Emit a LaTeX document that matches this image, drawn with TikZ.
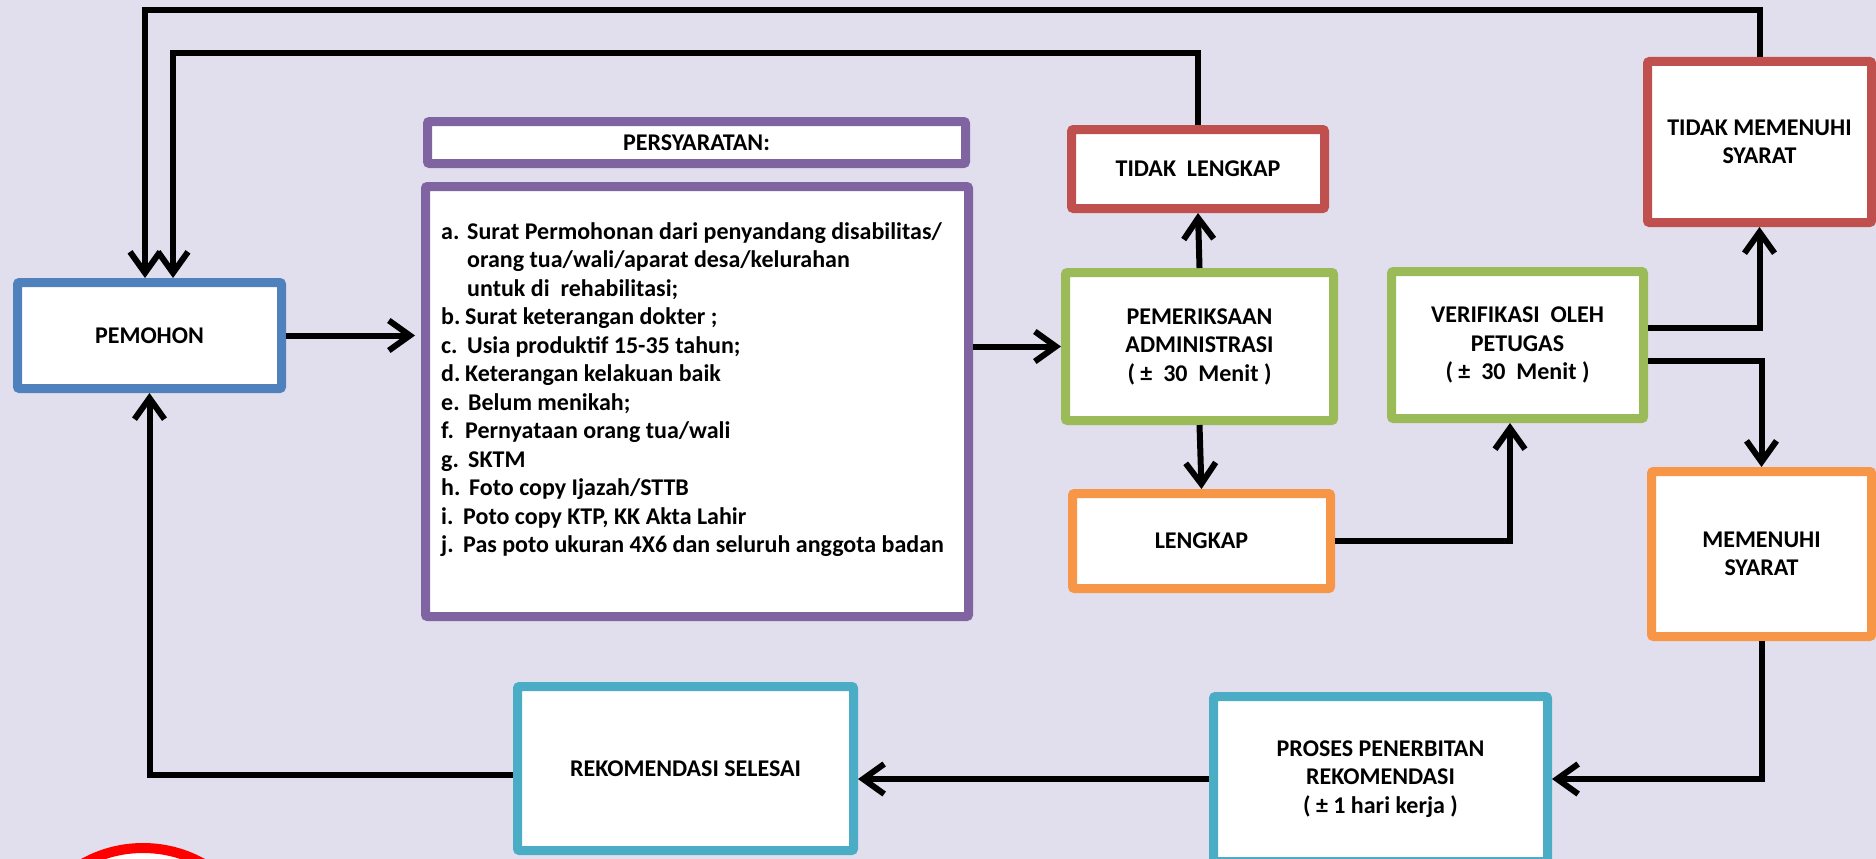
\documentclass[tikz,border=0pt]{standalone}
\usepackage{fontspec}
\setmainfont{Carlito}
\usetikzlibrary{arrows.meta,calc}
\definecolor{bg}{RGB}{225,223,237}
\definecolor{cblue}{RGB}{79,129,189}
\definecolor{cpurple}{RGB}{128,100,162}
\definecolor{cred}{RGB}{192,80,77}
\definecolor{cgreen}{RGB}{155,187,89}
\definecolor{corange}{RGB}{247,150,70}
\definecolor{cteal}{RGB}{75,172,198}
\begin{document}
\begin{tikzpicture}[x=1pt,y=-1pt,
  box/.style={draw=#1, fill=white, line width=9pt, rounded corners=2pt, align=center, inner sep=0pt,
    font=\bfseries\fontsize{24}{28.5}\selectfont},
  conn/.style={line width=6pt, draw=black},
  arr/.style={conn, -{Straight Barb[length=21pt,width=30pt]}},
  lbl/.style={font=\bfseries\fontsize{24}{28.5}\selectfont, align=left, inner sep=0pt},
]
\fill[bg] (0,0) rectangle (1876,859);
\useasboundingbox (0,0) rectangle (1876,859);

\node[box=cblue, minimum width=264pt, minimum height=106pt] (pemohon) at (149.5,335.5) {PEMOHON};
\node[box=cpurple, minimum width=538pt, minimum height=42pt] (hdr) at (696.5,142.5) {PERSYARATAN:};
\node[box=cpurple, minimum width=543pt, minimum height=430pt] (req) at (697,401.5) {};
\node[lbl, anchor=base west] (reqlist) at (441,552.5) {%
\makebox[26pt][l]{a.}Surat Permohonan dari penyandang disabilitas/\\
\makebox[26pt][l]{}orang tua/wali/aparat desa/kelurahan\\
\makebox[26pt][l]{}untuk di~~rehabilitasi;\\
\makebox[24pt][l]{b.}Surat keterangan dokter ;\\
\makebox[26pt][l]{c.}Usia produktif 15-35 tahun;\\
\makebox[24pt][l]{d.}Keterangan kelakuan baik\\
\makebox[27pt][l]{e.}Belum menikah;\\
\makebox[24pt][l]{f.}Pernyataan orang tua/wali\\
\makebox[27pt][l]{g.}SKTM\\
\makebox[28pt][l]{h.}Foto copy Ijazah/STTB\\
\makebox[22pt][l]{i.}Poto copy KTP, KK Akta Lahir\\
\makebox[22pt][l]{j.}Pas poto ukuran 4X6 dan seluruh anggota badan};

\node[box=cred, minimum width=253pt, minimum height=79pt] (tl) at (1198,169) {TIDAK~~LENGKAP};
\node[box=cgreen, minimum width=268pt, minimum height=148pt] (pa) at (1199.5,346.5) {PEMERIKSAAN\\ADMINISTRASI\\( ±~~30~~Menit )};
\node[box=corange, minimum width=258pt, minimum height=95pt] (lk) at (1201.5,541) {LENGKAP};
\node[box=cgreen, minimum width=252pt, minimum height=147pt] (vp) at (1517.5,345) {VERIFIKASI~~OLEH\\PETUGAS\\( ±~~30~~Menit )};
\node[box=cred, minimum width=224pt, minimum height=161pt] (tms) at (1759.5,142) {TIDAK MEMENUHI\\SYARAT};
\node[box=corange, minimum width=220pt, minimum height=165pt] (ms) at (1761.5,554) {MEMENUHI\\SYARAT};
\node[box=cteal, minimum width=334pt, minimum height=165pt] (pr) at (1380.5,779) {PROSES PENERBITAN\\REKOMENDASI\\( ± 1 hari kerja )};
\node[box=cteal, minimum width=336pt, minimum height=164pt] (rs) at (685.5,768.5) {REKOMENDASI SELESAI};

\draw[red, line width=10pt, fill=white] (143,971) circle[radius=123];

\coordinate (top1) at (145,10);
\coordinate (top2) at (173,53);
\draw[arr, shorten >=6pt] (pemohon.east) -- (pemohon.east -| req.west);
\draw[arr] (req.east |- pa.west) -- (pa.west);
\draw[arr] (pa.north) -- (tl.south);
\draw[arr] (pa.south) -- (lk.north);
\draw[arr] (lk.east) -| ($(vp.south)+(-7.5,0)$);
\draw[arr] ($(vp.east)+(0,-17)$) -| (tms.south);
\draw[arr] ($(vp.east)+(0,16)$) -| (ms.north);
\draw[arr] (ms.south) |- (pr.east);
\draw[arr] (pr.west) -- (pr.west -| rs.east);
\draw[arr] ($(rs.west)+(0,6)$) -| (pemohon.south);
\draw[arr] (tms.north) |- (top1) -- (top1 |- pemohon.north);
\draw[arr] (tl.north) |- (top2) -- (top2 |- pemohon.north);
\end{tikzpicture}
\end{document}
